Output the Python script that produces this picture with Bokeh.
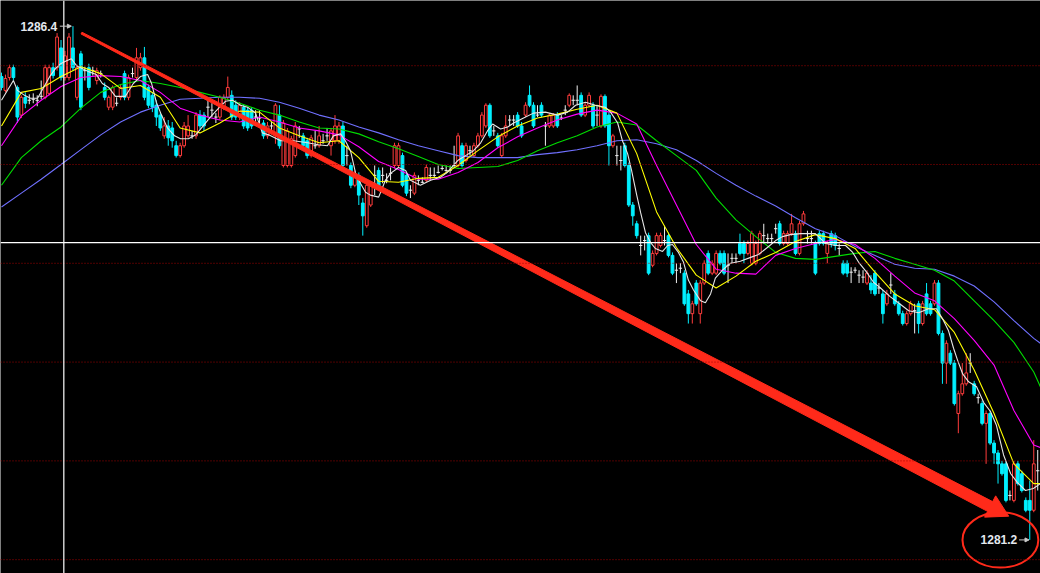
import numpy as np
from bokeh.plotting import figure
from bokeh.models import Span, Label, Arrow, NormalHead, Range1d
from bokeh.embed import file_html
from bokeh.resources import INLINE

# ---------------- data ----------------
opens = [1285.89,1285.75,1285.88,1285.98,1285.78,1285.50,1285.68,1285.65,1285.66,1285.65,
1285.69,1285.68,1285.72,1285.98,1285.98,1286.18,1285.88,1285.88,1286.18,1285.68,
1286.12,1285.95,1285.98,1285.95,1285.85,1285.92,1285.78,1285.58,1285.58,1285.62,
1285.68,1285.92,1285.68,1285.92,1285.88,1285.98,1286.08,1285.78,1285.70,1285.60,
1285.50,1285.29,1285.39,1285.37,1285.19,1285.09,1285.19,1285.29,1285.29,1285.29,
1285.50,1285.50,1285.58,1285.55,1285.48,1285.48,1285.58,1285.68,1285.70,1285.60,
1285.48,1285.58,1285.55,1285.55,1285.48,1285.47,1285.42,1285.29,1285.39,1285.29,
1285.50,1284.99,1284.99,1284.99,1285.09,1285.36,1285.29,1285.24,1285.09,1285.19,
1285.19,1285.24,1285.29,1285.19,1285.24,1285.24,1285.39,1285.09,1284.99,1284.79,
1284.89,1284.61,1284.38,1284.59,1284.89,1284.94,1284.89,1284.84,1284.91,1284.99,
1284.99,1285.09,1284.89,1284.74,1284.71,1284.84,1284.82,1284.84,1284.89,1284.89,
1284.92,1284.96,1284.94,1284.94,1284.99,1284.99,1285.19,1285.04,1285.14,1285.09,
1285.19,1285.29,1285.39,1285.60,1285.34,1285.29,1285.09,1285.29,1285.45,1285.45,
1285.50,1285.39,1285.50,1285.70,1285.60,1285.50,1285.60,1285.39,1285.39,1285.39,
1285.50,1285.47,1285.55,1285.60,1285.65,1285.65,1285.70,1285.50,1285.60,1285.60,
1285.50,1285.39,1285.69,1285.50,1285.19,1285.09,1285.04,1285.19,1284.99,1284.59,
1284.40,1284.18,1284.23,1284.28,1283.98,1284.10,1284.18,1284.23,1284.28,1284.08,
1283.93,1283.95,1283.90,1283.69,1283.49,1283.80,1283.49,1283.80,1284.10,1283.90,
1283.90,1284.10,1284.10,1283.98,1284.05,1284.05,1284.20,1284.20,1284.10,1284.00,
1284.00,1284.10,1284.28,1284.25,1284.25,1284.35,1284.40,1284.20,1284.20,1284.30,
1284.30,1284.10,1284.40,1284.25,1284.25,1284.20,1284.30,1284.30,1284.10,1284.30,
1284.28,1284.15,1284.00,1284.00,1283.91,1283.93,1283.88,1283.86,1283.80,1283.80,
1283.90,1283.75,1283.69,1283.59,1283.78,1283.69,1283.59,1283.49,1283.39,1283.49,
1283.52,1283.59,1283.39,1283.69,1283.59,1283.59,1283.80,1283.29,1282.99,1283.09,
1282.99,1282.48,1282.68,1282.78,1282.99,1282.78,1282.64,1282.58,1282.38,1282.48,
1282.18,1282.08,1281.97,1281.97,1281.65,1281.60,1281.97,1281.87,1281.60,1281.60,
1281.50,1281.90]

closes = [1285.78,1285.87,1285.98,1285.88,1285.48,1285.68,1285.62,1285.65,1285.66,1285.65,
1285.69,1285.98,1285.98,1285.90,1286.29,1285.88,1286.10,1286.29,1285.98,1285.98,
1285.58,1285.95,1285.78,1285.95,1285.95,1285.92,1285.68,1285.68,1285.78,1285.62,
1285.78,1285.68,1285.88,1285.92,1286.08,1286.08,1285.68,1285.60,1285.58,1285.48,
1285.37,1285.39,1285.27,1285.24,1285.09,1285.19,1285.39,1285.39,1285.29,1285.50,
1285.39,1285.39,1285.58,1285.55,1285.48,1285.68,1285.68,1285.78,1285.48,1285.48,
1285.60,1285.39,1285.37,1285.39,1285.48,1285.47,1285.29,1285.39,1285.39,1285.60,
1285.19,1285.42,1285.34,1285.26,1285.39,1285.36,1285.19,1285.09,1285.27,1285.19,
1285.29,1285.24,1285.29,1285.34,1285.39,1285.39,1284.99,1285.09,1284.79,1284.89,
1284.69,1284.48,1284.79,1284.79,1284.89,1284.77,1284.89,1284.84,1284.91,1285.19,
1285.19,1284.79,1284.71,1284.74,1284.89,1284.84,1284.82,1284.97,1284.89,1284.89,
1284.92,1284.96,1284.94,1284.94,1284.99,1285.29,1284.99,1285.19,1285.14,1285.19,
1285.29,1285.50,1285.60,1285.29,1285.34,1285.19,1285.29,1285.39,1285.45,1285.45,
1285.39,1285.29,1285.60,1285.60,1285.39,1285.50,1285.50,1285.39,1285.50,1285.50,
1285.39,1285.47,1285.55,1285.70,1285.65,1285.65,1285.50,1285.60,1285.70,1285.39,
1285.50,1285.69,1285.39,1285.19,1285.29,1285.09,1285.04,1284.99,1284.59,1284.48,
1284.28,1284.18,1284.23,1283.90,1284.10,1284.28,1284.28,1284.23,1284.08,1283.90,
1283.93,1283.95,1283.59,1283.49,1283.59,1283.59,1283.80,1284.00,1283.90,1284.00,
1284.10,1284.00,1283.90,1283.98,1284.05,1284.05,1284.10,1284.10,1284.20,1284.30,
1284.20,1284.30,1284.28,1284.25,1284.25,1284.35,1284.20,1284.30,1284.30,1284.40,
1284.10,1284.40,1284.50,1284.25,1284.25,1283.90,1284.20,1284.20,1284.20,1284.20,
1284.18,1284.15,1283.90,1283.90,1283.91,1283.93,1283.88,1283.86,1283.90,1283.73,
1283.69,1283.75,1283.49,1283.69,1283.78,1283.59,1283.49,1283.39,1283.49,1283.59,
1283.52,1283.39,1283.59,1283.49,1283.49,1283.80,1283.29,1282.99,1283.19,1282.99,
1282.58,1282.68,1282.78,1282.89,1282.99,1282.68,1282.64,1282.38,1282.48,1282.18,
1282.08,1281.97,1281.87,1281.60,1281.65,1281.97,1281.77,1281.70,1281.50,1281.50,
1281.97,1281.90]

highs = [1285.93,1285.91,1286.01,1286.01,1285.80,1285.70,1285.73,1285.71,1285.72,1285.70,
1285.85,1286.01,1286.01,1286.03,1286.33,1286.26,1286.15,1286.33,1286.40,1286.01,
1286.15,1285.99,1286.02,1285.99,1285.98,1285.95,1285.83,1285.70,1285.80,1285.68,
1285.81,1285.95,1285.91,1285.98,1286.18,1286.13,1286.19,1285.81,1285.73,1285.65,
1285.53,1285.48,1285.45,1285.43,1285.24,1285.22,1285.43,1285.50,1285.34,1285.53,
1285.55,1285.53,1285.65,1285.62,1285.52,1285.70,1285.71,1285.89,1285.75,1285.65,
1285.63,1285.61,1285.58,1285.58,1285.55,1285.55,1285.45,1285.43,1285.43,1285.62,
1285.60,1285.45,1285.37,1285.29,1285.43,1285.39,1285.32,1285.27,1285.30,1285.34,
1285.39,1285.31,1285.37,1285.37,1285.50,1285.43,1285.43,1285.19,1285.02,1284.94,
1284.92,1284.66,1284.82,1284.82,1284.99,1284.97,1284.97,1284.91,1284.97,1285.22,
1285.22,1285.12,1284.92,1284.79,1284.92,1284.89,1284.87,1285.00,1284.97,1284.97,
1284.99,1284.99,1284.99,1284.99,1285.19,1285.32,1285.22,1285.22,1285.19,1285.22,
1285.32,1285.53,1285.62,1285.62,1285.39,1285.32,1285.32,1285.50,1285.50,1285.50,
1285.53,1285.43,1285.63,1285.80,1285.63,1285.60,1285.63,1285.43,1285.52,1285.52,
1285.53,1285.50,1285.60,1285.72,1285.70,1285.80,1285.73,1285.63,1285.73,1285.63,
1285.60,1285.71,1285.71,1285.53,1285.31,1285.19,1285.19,1285.22,1285.02,1284.62,
1284.43,1284.28,1284.28,1284.31,1284.13,1284.31,1284.31,1284.38,1284.31,1284.11,
1284.00,1284.00,1283.93,1283.73,1283.62,1283.83,1283.83,1284.03,1284.13,1284.03,
1284.13,1284.13,1284.13,1284.10,1284.10,1284.10,1284.30,1284.23,1284.23,1284.33,
1284.23,1284.33,1284.40,1284.30,1284.30,1284.40,1284.43,1284.33,1284.33,1284.50,
1284.33,1284.43,1284.53,1284.33,1284.33,1284.23,1284.33,1284.33,1284.23,1284.33,
1284.31,1284.20,1284.03,1284.03,1283.96,1283.96,1283.93,1283.93,1283.93,1283.88,
1283.93,1283.80,1283.73,1283.73,1283.90,1283.73,1283.62,1283.52,1283.52,1283.62,
1283.59,1283.62,1283.62,1283.80,1283.62,1283.83,1283.83,1283.32,1283.22,1283.12,
1283.02,1282.71,1282.99,1283.09,1283.09,1282.81,1282.68,1282.61,1282.51,1282.51,
1282.21,1282.11,1282.00,1282.00,1281.70,1282.00,1282.00,1281.90,1281.63,1281.80,
1282.21,1282.11]

lows = [1285.75,1285.73,1285.85,1285.85,1285.42,1285.47,1285.57,1285.61,1285.62,1285.59,
1285.66,1285.66,1285.70,1285.87,1285.95,1285.85,1285.85,1285.85,1285.95,1285.65,
1285.55,1285.85,1285.75,1285.90,1285.81,1285.88,1285.65,1285.55,1285.55,1285.59,
1285.65,1285.65,1285.65,1285.88,1285.85,1285.95,1285.65,1285.57,1285.53,1285.39,
1285.34,1285.26,1285.19,1285.17,1285.07,1285.07,1285.17,1285.27,1285.26,1285.26,
1285.36,1285.34,1285.48,1285.48,1285.42,1285.45,1285.55,1285.65,1285.45,1285.45,
1285.45,1285.36,1285.34,1285.36,1285.39,1285.37,1285.26,1285.26,1285.31,1285.21,
1285.16,1284.97,1284.97,1284.97,1285.07,1285.27,1285.16,1285.06,1285.07,1285.16,
1285.17,1285.21,1285.24,1285.09,1285.21,1285.21,1284.97,1284.99,1284.76,1284.77,
1284.59,1284.28,1284.36,1284.57,1284.69,1284.74,1284.81,1284.81,1284.84,1284.96,
1284.97,1284.77,1284.68,1284.66,1284.69,1284.79,1284.81,1284.82,1284.84,1284.87,
1284.91,1284.94,1284.91,1284.91,1284.97,1284.97,1284.97,1285.02,1285.09,1285.07,
1285.17,1285.27,1285.37,1285.27,1285.29,1285.17,1285.07,1285.27,1285.39,1285.39,
1285.37,1285.27,1285.48,1285.58,1285.37,1285.48,1285.48,1285.19,1285.37,1285.37,
1285.37,1285.45,1285.50,1285.58,1285.60,1285.60,1285.48,1285.48,1285.58,1285.37,
1285.39,1285.37,1285.37,1284.99,1285.17,1284.99,1284.94,1284.97,1284.57,1284.38,
1284.25,1284.08,1284.13,1283.88,1283.96,1284.08,1284.16,1284.18,1284.06,1283.88,
1283.80,1283.90,1283.57,1283.39,1283.39,1283.57,1283.39,1283.78,1283.88,1283.88,
1283.88,1283.98,1283.88,1283.80,1284.00,1284.00,1284.08,1284.00,1284.08,1283.98,
1283.98,1284.08,1284.20,1284.20,1284.20,1284.30,1284.18,1284.18,1284.18,1284.28,
1284.08,1284.08,1284.38,1284.20,1284.20,1283.88,1284.18,1284.18,1284.00,1284.16,
1284.13,1284.08,1283.88,1283.86,1283.80,1283.90,1283.80,1283.80,1283.78,1283.69,
1283.67,1283.69,1283.39,1283.57,1283.69,1283.57,1283.47,1283.37,1283.37,1283.47,
1283.29,1283.29,1283.37,1283.47,1283.47,1283.57,1283.27,1282.78,1282.78,1282.97,
1282.56,1282.28,1282.66,1282.76,1282.89,1282.66,1282.58,1282.36,1281.97,1282.16,
1281.97,1281.77,1281.85,1281.58,1281.60,1281.58,1281.75,1281.68,1281.48,1281.20,
1281.48,1281.70]

# moving-average lines at these bar positions
ma_idx = list(range(0, 261, 5)) + [262]
ma_yellow = [1285.39,1285.73,1285.77,1285.89,1285.99,1285.92,1285.77,1285.80,1285.68,1285.37,
1285.32,1285.42,1285.54,1285.53,1285.37,1285.29,1285.22,1285.24,1285.07,1284.83,
1284.82,1284.86,1284.87,1284.99,1285.14,1285.28,1285.39,1285.47,1285.51,1285.56,
1285.60,1285.52,1285.11,1284.52,1284.16,1283.88,1283.75,1283.87,1284.02,1284.11,
1284.22,1284.29,1284.25,1284.15,1283.91,1283.69,1283.57,1283.53,1283.30,1282.92,
1282.48,1281.97,1281.77,1281.77]
ma_magenta = [1285.19,1285.49,1285.65,1285.79,1285.88,1285.90,1285.89,1285.85,1285.73,1285.57,
1285.50,1285.45,1285.43,1285.48,1285.43,1285.37,1285.34,1285.30,1285.18,1285.03,
1284.95,1284.85,1284.85,1284.92,1285.02,1285.17,1285.28,1285.37,1285.45,1285.51,
1285.55,1285.52,1285.41,1284.99,1284.59,1284.19,1283.94,1283.90,1283.89,1284.08,
1284.15,1284.20,1284.24,1284.19,1284.05,1283.87,1283.70,1283.62,1283.44,1283.22,
1282.97,1282.51,1282.16,1282.13]
ma_green = [1284.79,1285.07,1285.24,1285.38,1285.57,1285.73,1285.81,1285.85,1285.82,1285.78,
1285.73,1285.68,1285.62,1285.55,1285.50,1285.43,1285.37,1285.36,1285.31,1285.23,
1285.16,1285.08,1285.00,1284.96,1284.97,1284.98,1285.04,1285.14,1285.22,1285.29,
1285.38,1285.43,1285.40,1285.24,1285.09,1284.94,1284.66,1284.44,1284.27,1284.11,
1284.05,1284.04,1284.07,1284.10,1284.12,1284.05,1283.99,1283.93,1283.82,1283.62,
1283.42,1283.20,1282.90,1282.72]
ma_blue = [1284.57,1284.71,1284.85,1285.00,1285.15,1285.30,1285.43,1285.53,1285.60,1285.66,
1285.67,1285.68,1285.68,1285.67,1285.63,1285.57,1285.50,1285.45,1285.38,1285.32,
1285.25,1285.19,1285.14,1285.09,1285.07,1285.07,1285.07,1285.10,1285.12,1285.15,
1285.19,1285.24,1285.25,1285.21,1285.15,1285.04,1284.91,1284.79,1284.68,1284.58,
1284.46,1284.35,1284.28,1284.17,1284.08,1283.99,1283.95,1283.94,1283.87,1283.77,
1283.61,1283.42,1283.24,1283.18]

white_idx = [0,3.0,4.0,5.8,7.3,9.1,10.6,12.3,13.6,14.9,16.4,17.6,18.9,19.9,21.9,23.9,25.4,27.0,28.7,31.2,
33.2,35.0,36.8,37.8,39.0,40.3,41.8,43.6,45.1,47.1,48.9,50.6,52.6,54.7,56.4,58.2,60.2,62.0,64.0,65.7,
67.3,70.3,73.6,77.1,79.8,82.1,83.6,85.4,86.6,87.9,89.2,90.4,91.7,92.9,95.0,96.7,98.0,100.0,101.8,103.0,
105.5,108.1,110.6,112.3,114.9,116.9,118.9,120.7,122.4,123.7,125.7,127.5,129.0,131.5,134.0,137.0,140.1,142.6,144.6,147.1,
149.6,152.1,153.4,155.2,156.4,157.7,158.7,160.0,161.0,162.2,163.5,164.7,166.5,167.8,169.0,170.5,171.8,173.0,174.3,176.1,
177.3,178.6,179.8,181.6,183.6,186.1,188.7,190.7,192.9,195.0,196.7,198.7,201.3,205.0,207.6,210.1,212.6,214.4,215.9,217.9,
219.6,221.4,223.9,225.9,228.5,231.0,233.5,235.5,237.0,238.5,239.8,240.8,242.1,243.6,245.6,247.4,249.1,250.6,252.4,254.2,
255.9,257.9,259.9,261.7]
white_val = [1285.65,1285.85,1285.75,1285.70,1285.67,1285.67,1285.78,1285.90,1285.97,1286.02,1286.05,1286.07,1286.00,1285.98,1285.94,1285.91,1285.82,1285.78,1285.69,1285.69,
1285.82,1285.89,1285.91,1285.82,1285.63,1285.50,1285.37,1285.29,1285.26,1285.26,1285.30,1285.38,1285.48,1285.57,1285.64,1285.65,1285.60,1285.58,1285.52,1285.32,
1285.30,1285.24,1285.24,1285.22,1285.20,1285.19,1285.29,1285.31,1285.24,1285.14,1284.91,1284.81,1284.72,1284.69,1284.67,1284.84,1284.91,1284.97,1284.94,1284.84,
1284.79,1284.84,1284.87,1284.92,1285.04,1285.09,1285.14,1285.22,1285.34,1285.41,1285.36,1285.38,1285.42,1285.47,1285.52,1285.53,1285.50,1285.53,1285.60,1285.63,
1285.60,1285.58,1285.53,1285.42,1285.24,1285.11,1284.94,1284.69,1284.51,1284.31,1284.21,1284.15,1284.12,1284.18,1284.19,1284.11,1284.01,1283.83,1283.73,1283.62,
1283.60,1283.69,1283.85,1283.93,1284.00,1284.02,1284.06,1284.09,1284.16,1284.23,1284.27,1284.29,1284.30,1284.30,1284.20,1284.18,1284.18,1284.11,1284.01,1283.91,
1283.81,1283.75,1283.66,1283.60,1283.52,1283.50,1283.54,1283.54,1283.44,1283.32,1283.14,1283.02,1282.88,1282.80,1282.75,1282.59,1282.50,1282.36,1282.06,1281.87,
1281.78,1281.70,1281.72,1281.77]

grid_levels = [1286, 1285, 1284, 1283, 1282, 1281]
cross_bar = 15.7          # vertical crosshair position (bar index)
cross_price = 1284.21     # horizontal crosshair price
high_bar, high_price = 18, 1286.40
low_bar, low_price = 259, 1281.20
high_text, low_text = "1286.4", "1281.2"

# ---------------- figure ----------------
W, H = 1040, 573
X0, X1 = -0.25, 261.7
Y0, Y1 = 1280.86, 1286.66

p = figure(width=W, height=H, x_range=Range1d(X0, X1), y_range=Range1d(Y0, Y1),
           output_backend="svg", toolbar_location=None,
           x_axis_location=None, y_axis_location=None,
           background_fill_color="black", border_fill_color="black", min_border=0)
p.grid.visible = False
p.outline_line_color = None

for lv in grid_levels:
    p.add_layout(Span(location=lv, dimension="width", line_color="#a00000",
                      line_dash="1 2", line_width=1))

RED, CYAN, WHITE = "#ff3c3c", "#00f0ff", "#f0f0f0"
o = np.array(opens); c = np.array(closes); h = np.array(highs); l = np.array(lows)
idx = np.arange(len(o))
up = c > o
dn = c < o
dj = c == o
wick_col = np.where(up, RED, np.where(dn, CYAN, WHITE)).tolist()

p.segment(idx, h, idx, l, color=wick_col, line_width=1)
p.vbar(x=idx[up], bottom=o[up], top=c[up], width=0.7, fill_color="black",
       line_color=RED, line_width=1)
p.vbar(x=idx[dn], bottom=c[dn], top=o[dn], width=0.7, fill_color=CYAN,
       line_color=CYAN, line_width=1)
p.segment(idx[dj] - 0.42, o[dj], idx[dj] + 0.42, o[dj], color=WHITE, line_width=1)

# moving averages
p.line(ma_idx, ma_blue, color="#7070ff", line_width=1.1)
p.line(ma_idx, ma_green, color="#00dd00", line_width=1.1)
p.line(ma_idx, ma_magenta, color="#ff00ff", line_width=1.1)
p.line(ma_idx, ma_yellow, color="#ffff00", line_width=1.1)
p.line(white_idx, white_val, color="#e6e6e6", line_width=1.1)

# crosshair
p.add_layout(Span(location=cross_bar, dimension="height", line_color="white", line_width=1.2))
p.add_layout(Span(location=cross_price, dimension="width", line_color="white", line_width=1.2))

# red tapered trend arrow (annotation)
def to_px(x, y):
    return (x - X0) / (X1 - X0) * W, (Y1 - y) / (Y1 - Y0) * H
def to_data(sx, sy):
    return X0 + sx / W * (X1 - X0), Y1 - sy / H * (Y1 - Y0)

sx0, sy0 = to_px(20.15, 1286.33)
sx1, sy1 = to_px(253.7, 1281.44)
d = np.array([sx1 - sx0, sy1 - sy0]); L = np.hypot(*d); d = d / L
n = np.array([-d[1], d[0]])
head_len, head_hw, w0, w1 = 21.0, 12.0, 2.0, 11.0
S = np.array([sx0, sy0]); T = np.array([sx1, sy1]); B = T - d * head_len
pts = [S + n * w0 / 2, B + n * w1 / 2, B + n * head_hw, T, B - n * head_hw,
       B - n * w1 / 2, S - n * w0 / 2]
ax, ay = zip(*[to_data(*pt) for pt in pts])
p.patch(list(ax), list(ay), fill_color="#ff2a1a", line_color="#ff2a1a", line_width=1)

# red ellipse round the low label
p.ellipse(x=251.6, y=1281.20, width=19.1, height=0.56, fill_color=None,
          line_color="#ff2a1a", line_width=2)

# high / low labels
GRAY = "#c8c8c8"
p.add_layout(Label(x=4.8, y=high_price, text=high_text, text_color="#e4e8ee",
                   text_font="Liberation Sans", text_font_size="12px",
                   text_font_style="bold", text_baseline="middle"))
p.add_layout(Arrow(end=NormalHead(size=4, line_color=GRAY, fill_color=GRAY),
                   x_start=14.7, y_start=high_price, x_end=high_bar - 0.4, y_end=high_price,
                   line_color=GRAY, line_width=1))
p.add_layout(Label(x=246.6, y=low_price, text=low_text, text_color="#e4e8ee",
                   text_font="Liberation Sans", text_font_size="12px",
                   text_font_style="bold", text_baseline="middle"))
p.add_layout(Arrow(end=NormalHead(size=4, line_color=GRAY, fill_color=GRAY),
                   x_start=256.3, y_start=low_price, x_end=low_bar - 0.2, y_end=low_price,
                   line_color=GRAY, line_width=1))

open("out.html", "w").write(file_html(p, INLINE))
